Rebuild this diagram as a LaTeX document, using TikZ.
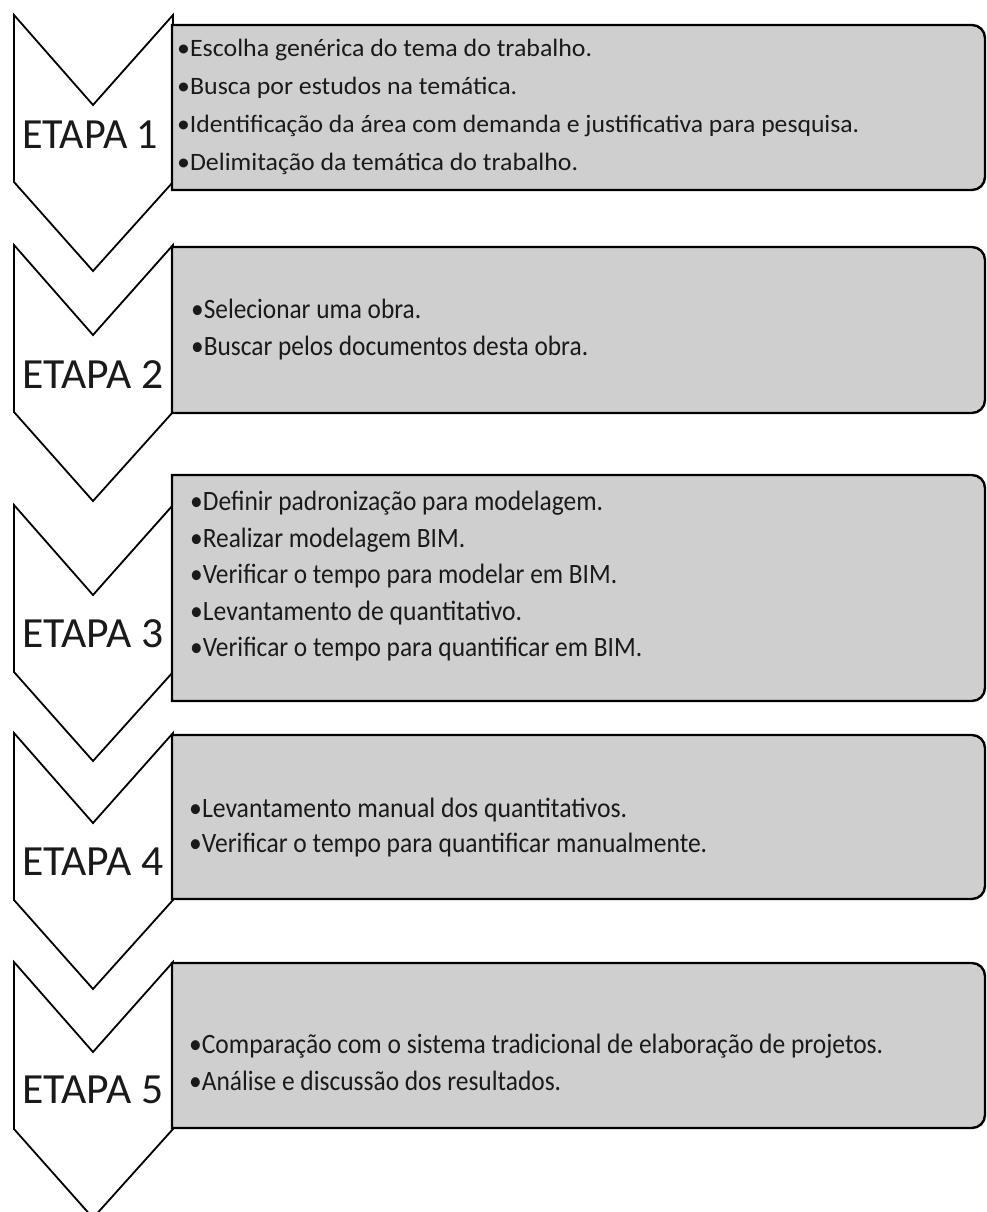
\documentclass[tikz,border=0pt]{standalone}
\usepackage{fontspec}
\setmainfont{Carlito}
\usepackage{graphicx}
\definecolor{boxgray}{HTML}{CFCFCF}
\definecolor{txt}{HTML}{1A1A1A}
\tikzset{
  chevron/.style={draw=black, fill=white, line width=1.8pt, line join=miter},
  panel/.style={draw=black, fill=boxgray, line width=2.4pt},
  etapa/.style={anchor=base west, inner sep=0pt, font=\fontsize{43}{46}\selectfont, text=txt},
  item/.style={anchor=base west, inner sep=0pt, font=\fontsize{28}{30}\selectfont, text=txt},
  itemsmall/.style={anchor=base west, inner sep=0pt, font=\fontsize{25}{28}\selectfont, text=txt},
}
\newcommand\fitw[2]{\resizebox{#1pt}{\height}{#2}}
\newcommand\chevshape[1]{%
  \draw[chevron] (14,#1) -- (93,{#1+90}) -- (173,#1) -- (173,{#1+167}) -- (93,{#1+256}) -- (14,{#1+167}) -- cycle;}
\newcommand\panelshape[2]{%
  \draw[panel] (172,#1) -- (972,#1) arc[start angle=-90, end angle=0, radius=13] -- (985,{#2-13}) arc[start angle=0, end angle=90, radius=13] -- (172,#2) -- cycle;}
\begin{document}
\begin{tikzpicture}[x=1pt, y=-1pt]
\useasboundingbox (0,0) rectangle (986,1212);
\clip (0,0) rectangle (986,1212);
% chevrons
\chevshape{15}
\chevshape{245}
\chevshape{505}
\chevshape{733}
\chevshape{962}
% panels
\panelshape{25}{190}
\panelshape{247}{413}
\panelshape{475}{701}
\panelshape{735}{899}
\panelshape{963}{1128}
% stage labels
\node[etapa] (e1) at (22,148) {\fitw{136}{ETAPA 1}};
\node[etapa] (e2) at (22,388) {\fitw{141}{ETAPA 2}};
\node[etapa] (e3) at (22,647) {\fitw{141}{ETAPA 3}};
\node[etapa] (e4) at (22,875) {\fitw{141}{ETAPA 4}};
\node[etapa] (e5) at (22,1103) {\fitw{141}{ETAPA 5}};
% box 1
\node[itemsmall] (t11) at (177,57) {\fitw{415}{•Escolha genérica do tema do trabalho.}};
\node[itemsmall] (t12) at (177,95) {\fitw{340}{•Busca por estudos na temática.}};
\node[itemsmall] (t13) at (177,132) {\fitw{682}{•Identificação da área com demanda e justificativa para pesquisa.}};
\node[itemsmall] (t14) at (177,170) {\fitw{401}{•Delimitação da temática do trabalho.}};
% box 2
\node[item] (t21) at (191,318) {\fitw{230}{•Selecionar uma obra.}};
\node[item] (t22) at (191,355) {\fitw{397}{•Buscar pelos documentos desta obra.}};
% box 3
\node[item] (t31) at (190,510) {\fitw{413}{•Definir padronização para modelagem.}};
\node[item] (t32) at (190,547) {\fitw{275}{•Realizar modelagem BIM.}};
\node[item] (t33) at (190,583) {\fitw{427}{•Verificar o tempo para modelar em BIM.}};
\node[item] (t34) at (190,620) {\fitw{332}{•Levantamento de quantitativo.}};
\node[item] (t35) at (190,656) {\fitw{452}{•Verificar o tempo para quantificar em BIM.}};
% box 4
\node[item] (t41) at (189,817) {\fitw{438}{•Levantamento manual dos quantitativos.}};
\node[item] (t42) at (189,852) {\fitw{518}{•Verificar o tempo para quantificar manualmente.}};
% box 5
\node[item] (t51) at (189,1053) {\fitw{694}{•Comparação com o sistema tradicional de elaboração de projetos.}};
\node[item] (t52) at (189,1090) {\fitw{372}{•Análise e discussão dos resultados.}};
\end{tikzpicture}
\end{document}
